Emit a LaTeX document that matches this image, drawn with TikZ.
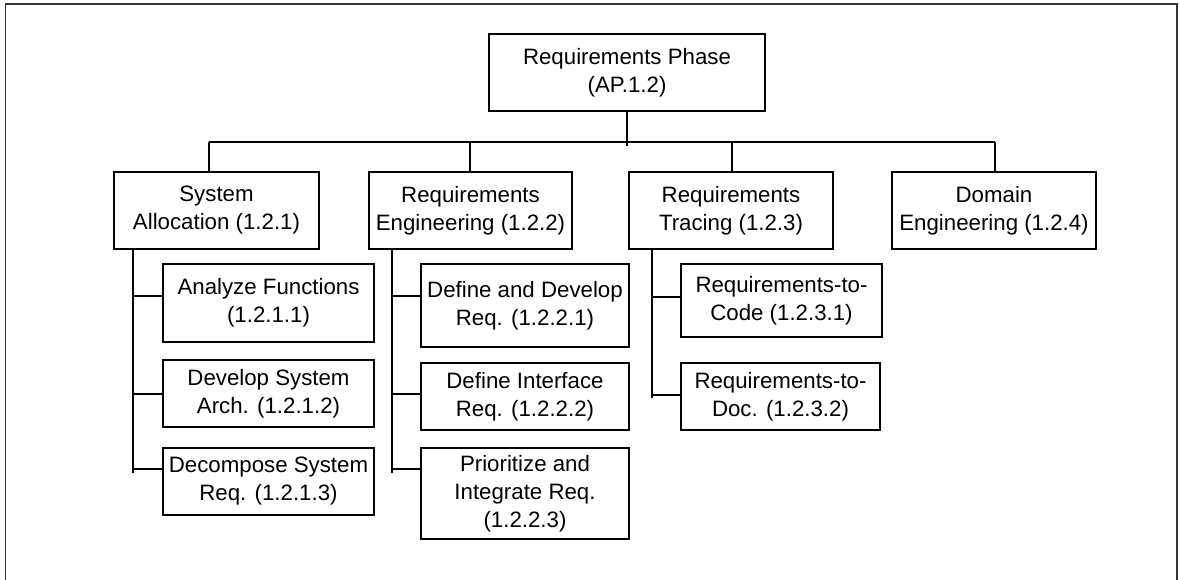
\documentclass[tikz,border=0pt]{standalone}
\usepackage{fontspec}
\setmainfont{Liberation Sans}
\begin{document}
\begin{tikzpicture}[x=0.75pt,y=-0.75pt,
  box/.style={draw=black, line width=1.9pt, inner sep=0pt, align=center,
    font=\fontsize{16.7}{21}\selectfont},
  bx/.style 2 args={minimum width=#1*0.75pt, minimum height=#2*0.75pt},
  wire/.style={line width=2.1pt},
  thin wire/.style={line width=1.4pt},
  frame/.style={draw=black!80, line width=1.3pt}]
\useasboundingbox (0,0) rectangle (1180,579);
\draw[frame] (5.5,590) -- (5.5,4) -- (1177,4) -- (1177,590);

% root and level 2
\node[box, bx={276}{77}] (root) at (627,72.5) {Requirements Phase\\(AP.1.2)};
\node[box, bx={205}{77}] (sa) at (216.5,210.5) {System\\Allocation (1.2.1)};
\node[box, bx={203}{77}] (re) at (470.5,210.5) {Requirements\\Engineering (1.2.2)};
\node[box, bx={204}{77}] (rt) at (731,210.5) {Requirements\\Tracing (1.2.3)};
\node[box, bx={204}{77}] (de) at (994,210.5) {Domain\\Engineering (1.2.4)};

% level 3
\node[box, bx={211}{78}] (a1) at (268.5,303) {Analyze Functions\\(1.2.1.1)};
\node[box, bx={211}{67}] (a2) at (268.5,393.5) {Develop System\\Arch. (1.2.1.2)};
\node[box, bx={211}{67}] (a3) at (268.5,481.5) {Decompose System\\Req. (1.2.1.3)};
\node[box, bx={208}{83}] (b1) at (525,305.5) {Define and Develop\\Req. (1.2.2.1)};
\node[box, bx={208}{67}] (b2) at (525,396.5) {Define Interface\\Req. (1.2.2.2)};
\node[box, bx={208}{91}] (b3) at (525,493.5) {Prioritize and\\Integrate Req.\\(1.2.2.3)};
\node[box, bx={201}{73}] (c1) at (781.5,300.5) {Requirements-to-\\Code (1.2.3.1)};
\node[box, bx={199}{67}] (c2) at (780.5,396.5) {Requirements-to-\\Doc. (1.2.3.2)};

% bus
\coordinate (rj) at (627,146);
\coordinate (bl) at (209,142);
\coordinate (bm1) at (470,142);
\coordinate (bm2) at (732,142);
\coordinate (br) at (995,142);
\draw[wire] (root.south) -- (rj);
\draw[wire] (bl) -- (br);
\draw[wire] (bl) -- (bl |- sa.north);
\draw[wire] (bm1) -- (bm1 |- re.north);
\draw[wire] (bm2) -- (bm2 |- rt.north);
\draw[wire] (br) -- (br |- de.north);

% trunks
\coordinate (t1) at (133,473);
\coordinate (t2) at (392,473);
\coordinate (t3) at (652,398);
\draw[wire] (t1 |- sa.south) -- (t1);
\draw[wire] (t2 |- re.south) -- (t2);
\draw[wire] (t3 |- rt.south) -- (t3);

% branches
\coordinate (j11) at (133,296);
\coordinate (j12) at (133,394);
\coordinate (j13) at (133,469);
\coordinate (j21) at (392,296);
\coordinate (j22) at (392,394);
\coordinate (j23) at (392,469);
\coordinate (j31) at (652,297);
\coordinate (j32) at (652,395);
\draw[wire] (j11) -- (j11 -| a1.west);
\draw[thin wire] (j12) -- (j12 -| a2.west);
\draw[wire] (j13) -- (j13 -| a3.west);
\draw[wire] (j21) -- (j21 -| b1.west);
\draw[thin wire] (j22) -- (j22 -| b2.west);
\draw[wire] (j23) -- (j23 -| b3.west);
\draw[wire] (j31) -- (j31 -| c1.west);
\draw[thin wire] (j32) -- (j32 -| c2.west);
\end{tikzpicture}
\end{document}
